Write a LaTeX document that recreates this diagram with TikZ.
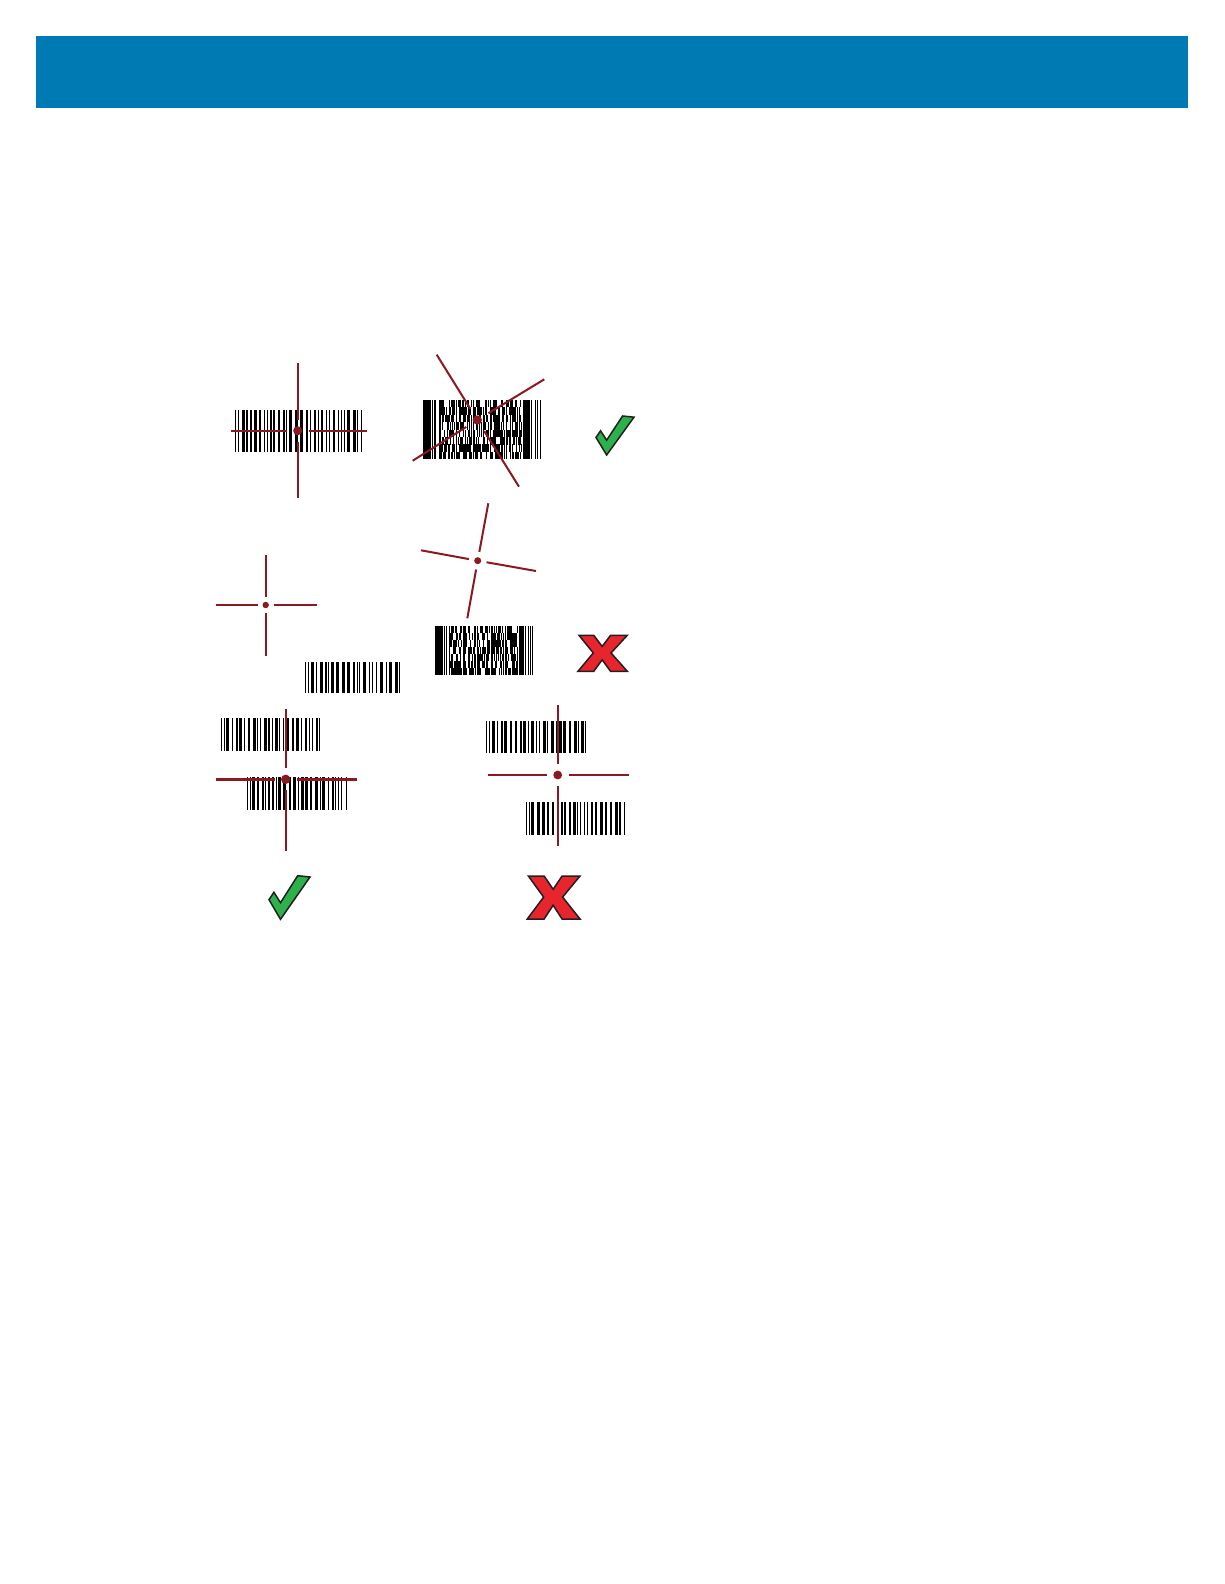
\documentclass[tikz,border=0pt]{standalone}
\usetikzlibrary{calc}
\definecolor{zbar}{RGB}{0,122,179}
\definecolor{aimred}{RGB}{139,26,32}
\definecolor{okgreen}{RGB}{44,178,75}
\definecolor{nored}{RGB}{232,36,44}
\definecolor{outl}{RGB}{35,31,32}
\tikzset{
  aim/.style={draw=aimred, line width=2pt},
  aimthick/.style={draw=aimred, line width=2.7pt},
  okmark/.style={fill=okgreen, draw=outl, line width=1.5pt, line join=miter},
  nomark/.style={fill=nored, draw=outl, line width=1.5pt, line join=miter},
  barink/.style={fill=black}
}
% linear barcode: x0 y0 x1 y1 seed
\newcommand\linbar[5]{%
  \pgfmathsetseed{#5}%
  \pgfmathsetmacro\bx{#1}%
  \fill[barink] (#1,#2) rectangle (#1+1.1,#4);%
  \pgfmathsetmacro\bx{#1+2.9}%
  \loop
    \pgfmathsetmacro\bw{random(1,3)*1.0}%
    \pgfmathsetmacro\sw{random(1,2)*1.0+0.7}%
    \fill[barink] (\bx,#2) rectangle (\bx+\bw,#4);%
    \pgfmathsetmacro\bx{\bx+\bw+\sw}%
    \pgfmathparse{int(\bx+3.5<#3)}%
  \ifnum\pgfmathresult=1 \repeat
  \fill[barink] (#3-1.1,#2) rectangle (#3,#4);%
}
% PDF417-like barcode: x0 y0 x1 y1 seed rows
\newcommand\pdfbar[6]{%
  \pgfmathsetseed{#5}%
  \pgfmathsetmacro\pu{(#3-#1)/120}%
  \pgfmathsetmacro\ph{(#4-#2)/#6}%
  \foreach \a/\w in {0/8,9/1,11/1,13/1}{\fill[barink] (#1+\a*\pu,#2) rectangle (#1+\a*\pu+\w*\pu,#4);}%
  \foreach \a/\w in {0/7,8/1,12/1,14/1,17/1}{\fill[barink] (#1+102*\pu+\a*\pu,#2) rectangle (#1+102*\pu+\a*\pu+\w*\pu,#4);}%
  \foreach \r in {1,...,#6}{%
    \foreach \m in {17,...,101}{%
      \pgfmathparse{int(mod(\m-17,17)==0 ? 1 : (mod(\m-17,17)==16 ? 0 : (rnd<0.55)))}%
      \ifnum\pgfmathresult=1
        \fill[barink] (#1+\m*\pu,#2+\r*\ph-\ph) rectangle (#1+\m*\pu+\pu+0.1,#2+\r*\ph+0.05);%
      \fi
    }%
  }%
}
% check mark: x0 y0 w h
\newcommand\okmk[4]{%
  \begin{scope}[shift={(#1,#2)}, x=#3pt, y=-#4pt]
    \draw[okmark] (0,0.55) -- (0.12,0.38) -- (0.28,0.62) -- (0.70,0) -- (1,0.03) -- (0.28,1) -- cycle;
  \end{scope}}
% cross mark: x0 y0 w h
\newcommand\nomk[4]{%
  \begin{scope}[shift={(#1,#2)}, x=#3pt, y=-#4pt]
    \draw[nomark] (0.02,0) -- (0.32,0) -- (0.49,0.31) -- (0.66,0) -- (1,0) -- (0.67,0.49)
      -- (1,1) -- (0.66,1) -- (0.49,0.68) -- (0.32,1) -- (0,1) -- (0.31,0.49) -- cycle;
  \end{scope}}
\begin{document}
\begin{tikzpicture}[x=1pt,y=-1pt]
\useasboundingbox (0,0) rectangle (1224,1584);
\fill[white] (0,0) rectangle (1224,1584);
\fill[zbar] (36,36) rectangle (1188,108);

% ---------- row 1 ----------
\linbar{235}{410}{362}{452}{11}
\pdfbar{422.7}{400}{540.7}{459.3}{7}{8}

\coordinate (c1) at (297.7,430.7);
\coordinate (c1a) at (231,430.7);
\coordinate (c1b) at (366.7,430.7);
\coordinate (c1c) at (297.7,363);
\coordinate (c1d) at (297.7,498);
\foreach \e in {a,b,c,d} \draw[aim] ($(c1)!11pt!(c1\e)$) -- (c1\e);
\fill[aimred] (c1) circle (4.5pt);

\coordinate (c2) at (477.3,420);
\coordinate (c2a) at (436.7,354.7);
\coordinate (c2b) at (519,486.7);
\coordinate (c2c) at (412.7,460.7);
\coordinate (c2d) at (544.3,379.3);
\foreach \e in {a,b,c,d} \draw[aim] ($(c2)!13pt!(c2\e)$) -- (c2\e);
\fill[aimred] (c2) circle (4.7pt);

\okmk{596}{416}{38}{39}

% ---------- row 2 ----------
\linbar{305}{662}{400}{693.3}{23}
\pdfbar{435}{626}{533.3}{674.7}{19}{7}

\coordinate (c3) at (265.7,605);
\coordinate (c3a) at (216,605);
\coordinate (c3b) at (316.7,605);
\coordinate (c3c) at (265.7,555);
\coordinate (c3d) at (265.7,655.7);
\foreach \e in {a,b,c,d} \draw[aim] ($(c3)!8pt!(c3\e)$) -- (c3\e);
\fill[aimred] (c3) circle (3.2pt);

\coordinate (c4) at (477.7,560.7);
\coordinate (c4a) at (488.3,503.3);
\coordinate (c4b) at (467.3,618.3);
\coordinate (c4c) at (421,550.3);
\coordinate (c4d) at (536,571);
\foreach \e in {a,b,c,d} \draw[aim] ($(c4)!9pt!(c4\e)$) -- (c4\e);
\fill[aimred] (c4) circle (3.5pt);

\nomk{578}{635.3}{49.3}{36}

% ---------- row 3 ----------
\linbar{220.7}{717.7}{320}{751}{31}
\linbar{246.7}{777.3}{346.7}{810}{37}
\linbar{485.7}{721}{586}{752.7}{41}
\linbar{525.7}{801.7}{625}{835}{43}

\coordinate (c5) at (285.7,779.3);
\coordinate (c5a) at (216,779.3);
\coordinate (c5b) at (356.7,779.3);
\coordinate (c5c) at (285.7,709);
\coordinate (c5d) at (285.7,850.7);
\foreach \e in {a,b} \draw[aimthick] ($(c5)!11pt!(c5\e)$) -- (c5\e);
\foreach \e in {c,d} \draw[aim] ($(c5)!11pt!(c5\e)$) -- (c5\e);
\fill[aimred] (c5) circle (4.7pt);

\coordinate (c6) at (557.7,775);
\coordinate (c6a) at (488,775);
\coordinate (c6b) at (629,775);
\coordinate (c6c) at (557.7,705);
\coordinate (c6d) at (557.7,845.7);
\foreach \e in {a,b,c,d} \draw[aim] ($(c6)!11pt!(c6\e)$) -- (c6\e);
\fill[aimred] (c6) circle (4.4pt);

\okmk{269}{875.7}{41}{43.6}
\nomk{527.3}{876}{52.7}{43}
\end{tikzpicture}
\end{document}
